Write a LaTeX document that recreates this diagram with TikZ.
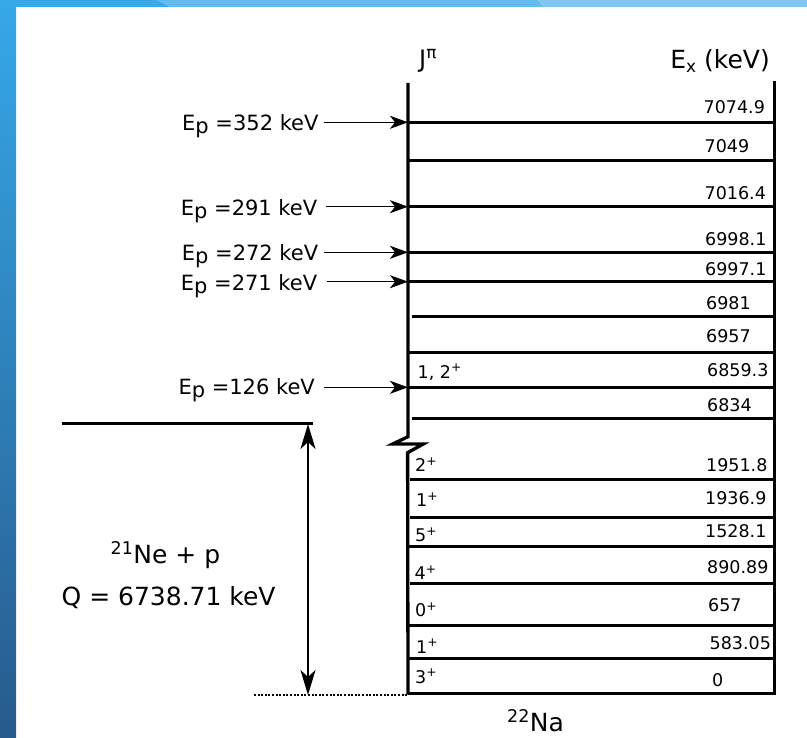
\documentclass[tikz,border=0pt]{standalone}
\usepackage{fontspec}
\setmainfont{DejaVu Sans}
\usepackage{xcolor}
\usetikzlibrary{
    arrows.meta,
    positioning
}
\definecolor{bandA}{HTML}{37A8E8}
\definecolor{bandB}{HTML}{62BAED}
\definecolor{bandC}{HTML}{80C6F0}
\definecolor{stripTop}{HTML}{36A8E8}
\definecolor{stripMid}{HTML}{2D80BE}
\definecolor{stripBot}{HTML}{285A8C}
\tikzset{
  level/.style   = {line width=3pt},
  frame/.style   = {line width=3.3pt, line join=miter},
  parr/.style    = {-{Stealth[length=18pt, width=13pt, inset=5pt]}, line width=1.5pt},
  qarr/.style    = {{Stealth[length=25pt, width=15pt, inset=7pt]}-{Stealth[length=25pt, width=15pt, inset=7pt]},
                    line width=2.4pt},
  ex/.style      = {anchor=base west, inner sep=0pt,
                    font=\fontsize{17.5}{20}\selectfont},
  eplbl/.style   = {anchor=base west, inner sep=0pt,
                    font=\fontsize{21}{24}\selectfont},
  big/.style     = {anchor=base west, inner sep=0pt,
                    font=\fontsize{25}{30}\selectfont}
}
\newcommand\Ep{E\raisebox{-3pt}{p}}

\begin{document}
\begin{tikzpicture}[x=1pt, y=-1pt]
    \useasboundingbox (0,0) rectangle (807,738);
    % Background frame
    \fill[white] (0,0) rectangle (807,738);
    \shade[top color=stripTop, middle color=stripMid, bottom color=stripBot]
      (0,0) rectangle (16,738);
    \fill[bandA] (0,0) -- (157,0) -- (170,7) -- (0,7) -- cycle;
    \fill[bandB] (157,0) -- (538,0) -- (543,7) -- (170,7) -- cycle;
    \fill[bandC] (538,0) -- (807,0) -- (807,7) -- (543,7) -- cycle;

    % Headers
    \node[big, font=\fontsize{24}{28}\selectfont] (jhead) at (419,67.5) {J\textsuperscript{π}};
    \node[big, anchor=base east] (exhead) at (770,68.3) {E\raisebox{-4pt}{\fontsize{17}{20}\selectfont x} (keV)};

    % Level frame with break
    \draw[frame] (408,83) -- (408,436.7) -- (392.7,444) -- (423.3,444)
      -- (407.6,452.7) -- (408,694.5);
    \draw[frame] (774.5,80.7) -- (774.5,694.5);

    % Levels and excitation energies
    \foreach \y/\x/\lbl/\lx/\ly in {122.3/408/7074.9/703.5/113.1,
        160.7/408/7049/704.5/152.4, 206.7/408/7016.4/704.5/199.1,
        252.3/408/6998.1/705/245.7, 281.7/408/6997.1/705/275.7,
        316.7/412/6981/706/309.1, 352.3/408/6957/706/342.4,
        387.3/408/6859.3/707/376.4, 418.3/412/6834/707/411.4,
        479/410/1951.8/706/471.4, 517.3/410/1936.9/705/504.7,
        546/408/1528.1/705/537.1, 583.3/410/890.89/707/573.1,
        625.7/408/657/708/611.4, 658.3/408/583.05/709.5/649.1,
        693.3/408/0/712/686.4}
    {
      \draw[level] (\x,\y) -- (774.5,\y);
      \node[ex] at (\lx,\ly) {\lbl};
    }

    % Spin and parity
    \node[ex] (jp1) at (417.5,378.1) {1, 2\textsuperscript{+}};
    \foreach \lbl/\lx/\ly in {2/415/471.4, 1/416/506.4, 5/415/541.4,
        4/414.5/579.7, 0/415/616.4, 1/416/653.1, 3/415/683.1}
      \node[ex] at (\lx,\ly) {\lbl\textsuperscript{+}};

    % Resonances
    \coordinate (lv352) at (408,122.3);
    \coordinate (lv291) at (408,206.7);
    \coordinate (lv272) at (408,252.3);
    \coordinate (lv271) at (408,281.7);
    \coordinate (lv126) at (408,387.3);
    \node[eplbl] (ep352) at (182,130.2) {\Ep\ =352 keV};
    \node[eplbl] (ep291) at (180.7,216) {\Ep\ =291 keV};
    \node[eplbl] (ep272) at (181.7,260.3) {\Ep\ =272 keV};
    \node[eplbl] (ep271) at (180.7,290.3) {\Ep\ =271 keV};
    \node[eplbl] (ep126) at (178.3,395) {\Ep\ =126 keV};
    \draw[parr] ([xshift=5pt]ep352.east |- lv352) -- (lv352);
    \draw[parr] ([xshift=9pt]ep291.east |- lv291) -- (lv291);
    \draw[parr] ([xshift=6pt]ep272.east |- lv272) -- (lv272);
    \draw[parr] ([xshift=10pt]ep271.east |- lv271) -- (lv271);
    \draw[parr] ([xshift=9pt]ep126.east |- lv126) -- (lv126);

    % Threshold and Q value
    \coordinate (thr) at (308,424);
    \coordinate (gs) at (308,695);
    \draw[level] (61.7,424) -- (313.3,424);
    \draw[line width=2.8pt, dash pattern=on 2pt off 1.6pt] (254,695) -- (408,695);
    \draw[qarr] (thr) -- (gs);
    \node[big] (ne) at (110.5,563.3) {\textsuperscript{21}Ne + p};
    \node[big] (qval) at (61.5,605) {Q = 6738.71 keV};

    % Compound nucleus
    \node[big] (na) at (507,731.7) {\textsuperscript{22}Na};
\end{tikzpicture}
\end{document}
